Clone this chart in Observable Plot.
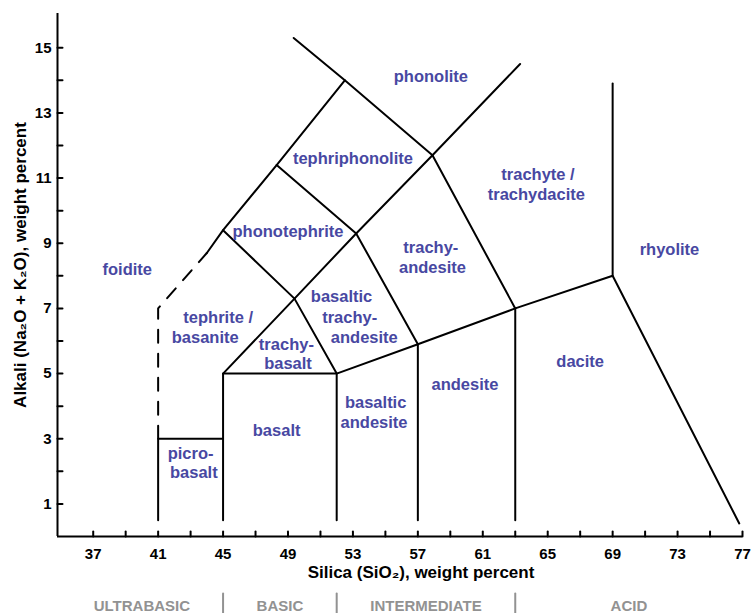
<!DOCTYPE html>
<html><head><meta charset="utf-8">
<script src="https://cdn.jsdelivr.net/npm/d3@7"></script>
<script src="https://cdn.jsdelivr.net/npm/@observablehq/plot@0.6"></script>
<style>
html,body{margin:0;padding:0;background:#fff;}
#chart svg{display:block;}
</style></head><body><div id="chart"></div>
<script>
// ---- data: TAS field boundaries (SiO2 wt%, Na2O+K2O wt%) ----
const solidBoundaries = [
  [[41,0.5],[41,3],[45,3]],
  [[45,0.5],[45,5],[52,5]],
  [[52,0.5],[52,5],[57,5.9],[63,7],[69,8],[76.8,0.4]],
  [[57,0.5],[57,5.9]],
  [[63,0.5],[63,7]],
  [[69,8],[69,13.9]],
  [[45,5],[49.4,7.3],[52,5]],
  [[49.4,7.3],[53.2,9.3],[57,5.9]],
  [[53.2,9.3],[57.9,11.7],[63,7]],
  [[57.9,11.7],[63.3,14.5]],
  [[44,8.7],[45,9.4],[48.3,11.4],[52.5,14]],
  [[45,9.4],[49.4,7.3]],
  [[48.3,11.4],[53.2,9.3]],
  [[49.35,15.3],[52.5,14],[57.9,11.7]]
];
const dashedBoundary = [[41,3],[41,7],[44,8.7]];

// ---- field names (one entry per text line) ----
const labelText = ["foidite","phonolite","tephriphonolite","phonotephrite","trachyte /","trachydacite","trachy-","andesite","rhyolite","basaltic","trachy-","andesite","tephrite /","basanite","trachy-","basalt","andesite","dacite","basaltic","andesite","basalt","picro-","basalt"];
const labelSiO2   = [39.1,57.8,53.0,49.0,64.4,64.3,57.8,57.9,72.5,52.3,52.8,53.7,44.7,43.9,48.9,49.0,59.9,67.0,54.4,54.3,48.3,43.0,43.2];
const labelAlkali = [8.2,14.1,11.6,9.35,11.1,10.5,8.85,8.25,8.8,7.35,6.7,6.1,6.7,6.1,5.9,5.3,4.65,5.35,4.1,3.5,3.25,2.55,1.95];

// ---- axes ----
const xDomain = [34.8, 77];
const yDomain = [0, 16.05];
const xMinorTicks = d3.range(37, 78, 2);
const xTickLabels = [37,41,45,49,53,57,61,65,69,73,77];
const yMinorTicks = d3.range(1, 16, 1);
const yTickLabels = [1,3,5,7,9,11,13,15];

// ---- silica classes ----
const classNames = ["ULTRABASIC","BASIC","INTERMEDIATE","ACID"];
const classBounds = [35,45,52,63,77];

const solidRows = solidBoundaries.flatMap((pl, i) => pl.map(([x, y]) => ({x, y, id: i})));
const dashedRows = dashedBoundary.map(([x, y]) => ({x, y}));
const labels = labelText.map((t, i) => ({t, x: labelSiO2[i], y: labelAlkali[i]}));
const classRows = classNames.map((n, i) => ({n, x: (classBounds[i] + classBounds[i + 1]) / 2}));
const classSeparators = classBounds.slice(1, -1);

const tickShape = {draw(ctx, l) { ctx.moveTo(0, 0); ctx.lineTo(0, -l); }};
const FONT = "Liberation Sans, Arial, Helvetica, sans-serif";
const labelColor = "#4848a2";

const plot = Plot.plot({
  width: 752,
  height: 613,
  marginLeft: 57,
  marginRight: 10,
  marginTop: 13,
  marginBottom: 77,
  style: {fontFamily: FONT, background: "#fff"},
  x: {domain: xDomain, axis: null},
  y: {domain: yDomain, axis: null},
  marks: [
    // axis lines
    Plot.ruleY([0], {stroke: "black", strokeWidth: 2}),
    Plot.ruleX([xDomain[0]], {stroke: "black", strokeWidth: 2}),
    // ticks (pointing inward)
    Plot.vector(xMinorTicks, {x: d => d, y: 0, length: 5, rotate: 0, anchor: "start", shape: tickShape, stroke: "black", strokeWidth: 2}),
    Plot.vector(yMinorTicks, {x: xDomain[0], y: d => d, length: 5, rotate: 90, anchor: "start", shape: tickShape, stroke: "black", strokeWidth: 2}),
    // tick labels
    Plot.text(xTickLabels, {x: d => d, y: 0, dy: 18, text: d => String(d), fontSize: 15, fontWeight: "bold", fill: "black"}),
    Plot.text(yTickLabels, {x: xDomain[0], y: d => d, dx: -6, textAnchor: "end", text: d => String(d), fontSize: 15, fontWeight: "bold", fill: "black"}),
    // axis titles
    Plot.text(["Silica (SiO₂), weight percent"], {frameAnchor: "bottom", textAnchor: "middle", dx: 21, dy: 41, text: d => d, fontSize: 17, fontWeight: "bold", fill: "black"}),
    Plot.text(["Alkali (Na₂O + K₂O), weight percent"], {frameAnchor: "left", textAnchor: "middle", dx: -37, dy: -10, rotate: -90, text: d => d, fontSize: 17, fontWeight: "bold", fill: "black"}),
    // field boundaries
    Plot.line(solidRows, {x: "x", y: "y", z: "id", stroke: "black", strokeWidth: 2, curve: "linear"}),
    Plot.line(dashedRows, {x: "x", y: "y", stroke: "black", strokeWidth: 2, strokeDasharray: "13,11"}),
    // field names
    Plot.text(labels, {x: "x", y: "y", text: "t", fontSize: 16.5, fontWeight: "bold", fill: labelColor}),
    // silica classes
    Plot.text(classRows, {x: "x", y: 0, dy: 70, text: "n", fontSize: 15, fill: "#929292", fontFamily: "Liberation Sans Narrow, Arial Narrow, Liberation Sans, sans-serif", fontWeight: "bold"}),
    Plot.vector(classSeparators, {x: d => d, y: 0, dy: 77, length: 20, rotate: 0, anchor: "start", shape: tickShape, stroke: "#929292", strokeWidth: 2})
  ]
});
document.getElementById("chart").appendChild(plot);
</script>
</body></html>
